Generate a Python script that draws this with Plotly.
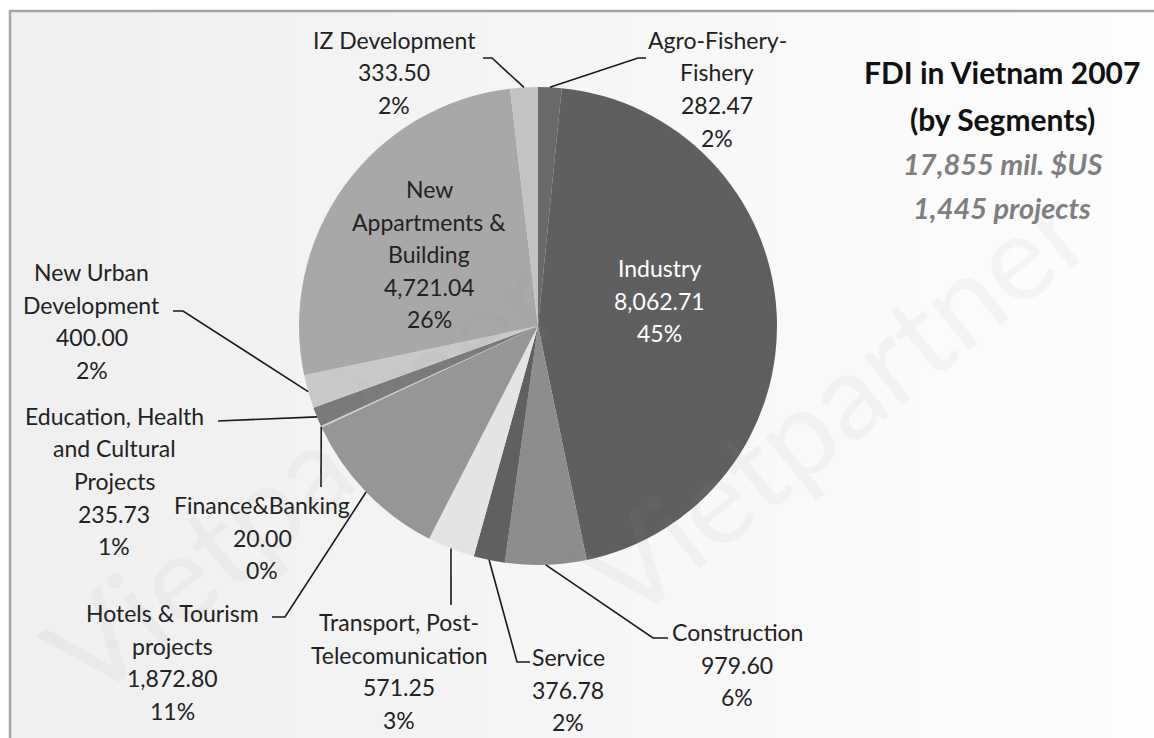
import math
import plotly.graph_objects as go

W, H = 1154, 738

# FDI in Vietnam 2007 by segment (mil. $US), clockwise from 12 o'clock
segments = [
    "Agro-Fishery-\nFishery",
    "Industry",
    "Construction",
    "Service",
    "Transport, Post-\nTelecomunication",
    "Hotels & Tourism\nprojects",
    "Finance&Banking",
    "Education, Health\nand Cultural\nProjects",
    "New Urban\nDevelopment",
    "New\nAppartments &\nBuilding",
    "IZ Development",
]
investment = [282.47, 8062.71, 979.60, 376.78, 571.25, 1872.80,
              20.00, 235.73, 400.00, 4721.04, 333.50]
share_labels = ["2%", "45%", "6%", "2%", "3%", "11%", "0%", "1%", "2%", "26%", "2%"]

title_lines = ["FDI in Vietnam 2007", "(by Segments)"]
subtitle_lines = ["17,855 mil. $US", "1,445 projects"]

slice_colors = ["#6a6a6a", "#5f5f5f", "#8d8d8d", "#606060", "#e4e4e4", "#969696",
                "#d0d0d0", "#7a7a7a", "#c9c9c9", "#a8a8a8", "#c3c3c3"]

# pie placement in pixels
CX, CY, R = 538, 326, 239

# label blocks: centre x, first-line y, text colour, leader path (text side first)
label_layout = [
    dict(cx=717, y=40, color="#222", path=[(646, 58), (638, 58)]),
    dict(cx=660, y=268, color="#ffffff", path=None),
    dict(cx=737, y=632, color="#222", path=[(668, 638), (653, 638)]),
    dict(cx=568, y=657, color="#222", path=[(530, 662), (517, 662)]),
    dict(cx=399, y=622, color="#222", path=[(451, 605)]),
    dict(cx=172, y=613, color="#222", path=[(272, 617), (285, 617)]),
    dict(cx=262, y=505, color="#222", path=[(321, 487)]),
    dict(cx=114, y=416, color="#222", path=[(218, 421)]),
    dict(cx=92, y=272, color="#222", path=[(173, 311), (183, 311)]),
    dict(cx=429, y=189, color="#222", path=None),
    dict(cx=394, y=40, color="#222", path=[(483, 58), (492, 58)]),
]
LINE_STEP = 32.5
FONT = "Lato, 'Open Sans', sans-serif"


def px(x):
    return x / W


def py(y):
    return 1 - y / H


fig = go.Figure()

fig.add_trace(go.Pie(
    labels=[s.replace("\n", " ") for s in segments],
    values=investment,
    sort=False,
    direction="clockwise",
    rotation=0,
    textinfo="none",
    hoverinfo="label+value+percent",
    marker=dict(colors=slice_colors, line=dict(width=0)),
    domain=dict(x=[px(CX - R), px(CX + R)], y=[py(CY + R), py(CY - R)]),
    showlegend=False,
))

annotations = []
shapes = []

# background panel with a soft left-to-right fade and a grey frame
x_left, y_top = 10, 11
n_strips = 24
for i in range(n_strips):
    t = i / (n_strips - 1)
    g = int(round(0xef + (0xfd - 0xef) * t))
    x0 = x_left + (W - x_left) * i / n_strips
    x1 = x_left + (W - x_left) * (i + 1) / n_strips + 1
    shapes.append(dict(type="rect", xref="paper", yref="paper", layer="below",
                       x0=px(x0), x1=px(x1), y0=0, y1=py(y_top),
                       fillcolor=f"rgb({g},{g},{g})", line=dict(width=0)))
shapes.append(dict(type="path", xref="paper", yref="paper", layer="below",
                   path=f"M {px(x_left)},{py(H)} L {px(x_left)},{py(y_top)} L {px(W)},{py(y_top)}",
                   line=dict(color="#a4a4a4", width=2.5)))

# faint watermark
for wx, wy, size in [(300, 475, 122), (835, 400, 120)]:
    annotations.append(dict(x=px(wx), y=py(wy), xref="paper", yref="paper",
                            xanchor="center", yanchor="middle",
                            text="Vietpartner", showarrow=False, textangle=-39,
                            font=dict(family=FONT, size=size, color="rgba(150,150,150,0.08)")))

# data labels and leader lines
total = sum(investment)
cum = 0.0
for name, val, pct, lay in zip(segments, investment, share_labels, label_layout):
    mid = (cum + val / 2) / total * 2 * math.pi
    cum += val
    ax = CX + R * math.sin(mid)
    ay = CY - R * math.cos(mid)
    lines = name.split("\n") + [f"{val:,.2f}", pct]
    for k, line in enumerate(lines):
        annotations.append(dict(x=px(lay["cx"]), y=py(lay["y"] + k * LINE_STEP),
                                xref="paper", yref="paper", text=line, showarrow=False,
                                xanchor="center", yanchor="middle",
                                font=dict(family=FONT, size=23, color=lay["color"])))
    if lay["path"]:
        pts = lay["path"] + [(ax, ay)]
        d = "M " + " L ".join(f"{px(x)},{py(y)}" for x, y in pts)
        shapes.append(dict(type="path", xref="paper", yref="paper", layer="above",
                           path=d, line=dict(color="#1a1a1a", width=1.6)))

# chart title block
for k, line in enumerate(title_lines):
    annotations.append(dict(x=px(1002), y=py(72 + k * 47), xref="paper", yref="paper",
                            text=f"<b>{line}</b>", showarrow=False, xanchor="center",
                            yanchor="middle",
                            font=dict(family=FONT, size=30, color="#111111")))
for k, line in enumerate(subtitle_lines):
    annotations.append(dict(x=px(1002), y=py(163 + k * 44), xref="paper", yref="paper",
                            text=f"<b><i>{line}</i></b>", showarrow=False, xanchor="center",
                            yanchor="middle",
                            font=dict(family=FONT, size=29, color="#7f7f7f")))

fig.update_layout(
    width=W, height=H,
    margin=dict(l=0, r=0, t=0, b=0),
    paper_bgcolor="#ffffff",
    plot_bgcolor="#ffffff",
    shapes=shapes,
    annotations=annotations,
)

fig.write_html("out.html")
